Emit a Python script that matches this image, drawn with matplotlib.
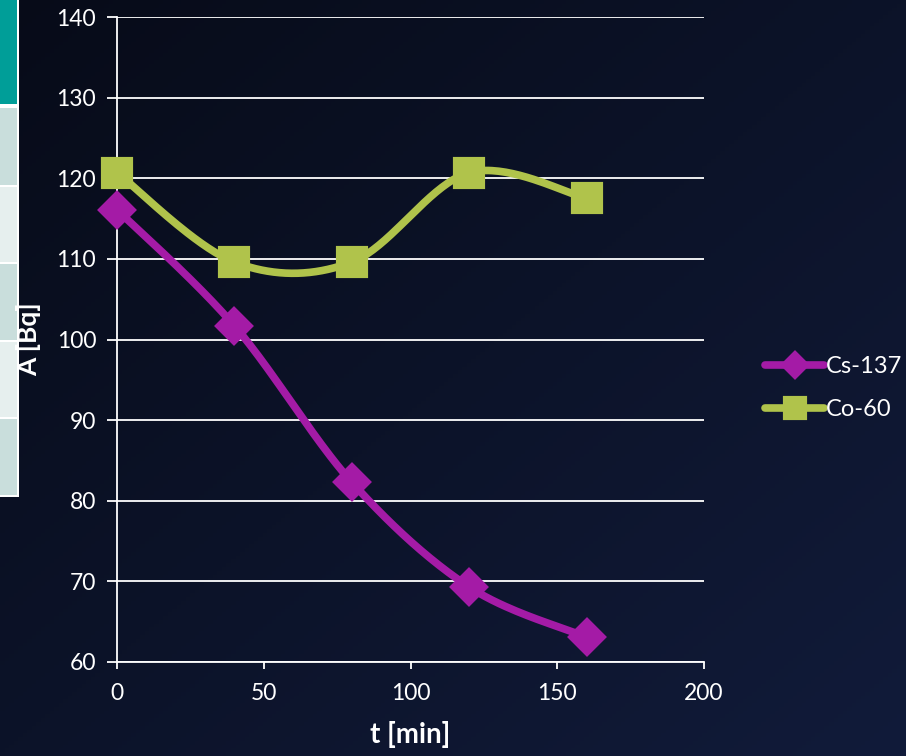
import numpy as np
import matplotlib.pyplot as plt
from matplotlib.patches import Rectangle

plt.rcParams['font.family'] = ['Lato', 'DejaVu Sans']

# Activity measurements
t_min = [0, 40, 80, 120, 160]
cs137 = [116.1, 101.7, 82.3, 69.3, 63.1]
co60 = [120.7, 109.6, 109.6, 120.7, 117.5]

x_ticks = [0, 50, 100, 150, 200]
y_ticks = [60, 70, 80, 90, 100, 110, 120, 130, 140]

purple = '#a41ba6'
green = '#b0c34b'


def smooth(x, y, n=40):
    # Catmull-Rom curve through the points (like a spreadsheet smoothed line)
    x = np.asarray(x, float)
    y = np.asarray(y, float)
    px = np.concatenate([[x[0]], x, [x[-1]]])
    py = np.concatenate([[y[0]], y, [y[-1]]])
    xs, ys = [], []
    for i in range(1, len(px) - 2):
        mx1 = (px[i + 1] - px[i - 1]) / 2
        my1 = (py[i + 1] - py[i - 1]) / 2
        mx2 = (px[i + 2] - px[i]) / 2
        my2 = (py[i + 2] - py[i]) / 2
        s = np.linspace(0, 1, n)
        h00 = 2 * s**3 - 3 * s**2 + 1
        h10 = s**3 - 2 * s**2 + s
        h01 = -2 * s**3 + 3 * s**2
        h11 = s**3 - s**2
        xs.append(h00 * px[i] + h10 * mx1 + h01 * px[i + 1] + h11 * mx2)
        ys.append(h00 * py[i] + h10 * my1 + h01 * py[i + 1] + h11 * my2)
    return np.concatenate(xs), np.concatenate(ys)


fig = plt.figure(figsize=(9.06, 7.56), dpi=100)

# dark gradient background
bg = fig.add_axes([0, 0, 1, 1], zorder=-10)
gx, gy = np.meshgrid(np.linspace(0, 1, 200), np.linspace(0, 1, 200))
g = (gx * 0.5 + gy * 0.5)
c0 = np.array([7, 11, 24]) / 255
c1 = np.array([17, 27, 58]) / 255
img = c0 + (c1 - c0) * g[..., None]
bg.imshow(img, extent=[0, 1, 0, 1], aspect='auto', origin='upper')
bg.set_xlim(0, 1)
bg.set_ylim(0, 1)
bg.axis('off')

# table strip on the left edge
W, H = 906, 756
cells = [(0, 104, '#009e98'), (108, 185, '#c9dedc'), (187, 262, '#e6efee'),
         (264, 340, '#c9dedc'), (342, 417, '#e6efee'), (419, 495, '#c9dedc')]
bg.add_patch(Rectangle((0, 1 - 497 / H), 19 / W, 497 / H, color='white', lw=0))
for top, bot, col in cells:
    bg.add_patch(Rectangle((0, 1 - bot / H), 17 / W, (bot - top) / H, color=col, lw=0))

ax = fig.add_axes([117 / W, 1 - 662 / H, (704 - 117) / W, (662 - 17) / H])
ax.patch.set_visible(False)

xs, ys = smooth(t_min, cs137)
ax.plot(xs, ys, color=purple, lw=5.5, solid_capstyle='round', zorder=3, clip_on=False)
xs, ys = smooth(t_min, co60)
ax.plot(xs, ys, color=green, lw=5.5, solid_capstyle='round', zorder=3, clip_on=False)
ax.plot(t_min, cs137, ls='none', marker='D', ms=17, color=purple,
        mec=purple, mew=3, zorder=4, clip_on=False)
ax.plot(t_min, co60, ls='none', marker='s', ms=20, color=green,
        mec=green, mew=3, zorder=4, clip_on=False)

ax.set_xlim(0, 200)
ax.set_ylim(60, 140)
ax.set_xticks(x_ticks)
ax.set_yticks(y_ticks)
ax.grid(axis='y', color='white', lw=1.3)
ax.set_axisbelow(True)
for side in ['top', 'right']:
    ax.spines[side].set_visible(False)
for side in ['left', 'bottom']:
    ax.spines[side].set_color('white')
    ax.spines[side].set_linewidth(1.3)
ax.tick_params(axis='y', colors='white', labelsize=16.5, length=7, width=1.3, pad=8)
ax.tick_params(axis='x', colors='white', labelsize=16.5, length=5, width=1.3, pad=10)
ax.set_xlabel('t [min]', color='white', fontsize=20, fontweight='bold', labelpad=12)
ax.set_ylabel('A [Bq]', color='white', fontsize=19, fontweight='bold')
ax.yaxis.set_label_coords(-76 / (704 - 117), 0.5)

h1, = ax.plot([], [], color=purple, lw=5.5, marker='D', ms=17, mec=purple, mew=3,
              solid_capstyle='round')
h2, = ax.plot([], [], color=green, lw=5.5, marker='s', ms=20, mec=green, mew=3,
              solid_capstyle='round')
leg = fig.legend([h1, h2], ['Cs-137', 'Co-60'], loc='center left',
                 bbox_to_anchor=(744 / W, 1 - 388 / H), frameon=False,
                 fontsize=17, labelcolor='white', markerscale=0.7,
                 handlelength=2.5, handletextpad=0.05, labelspacing=0.95)

fig.savefig('out.png', dpi=100)
